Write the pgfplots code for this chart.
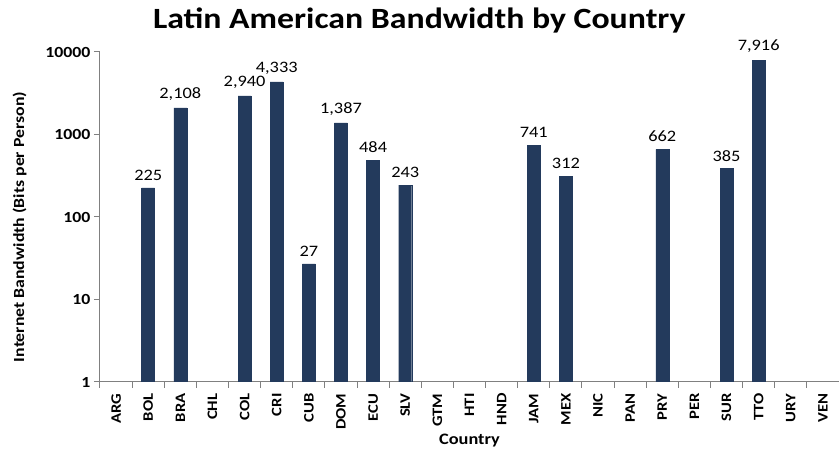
\documentclass[border=0pt]{standalone}
\usepackage{pgfplots}
\pgfplotsset{compat=1.18}
\usepackage{fontspec}
\setmainfont[FakeStretch=1.15]{Carlito}
\definecolor{barblue}{RGB}{35,58,92}
\definecolor{axgray}{RGB}{128,128,128}
\begin{document}
\begin{tikzpicture}
\begin{axis}[
  name=ax,
  scale only axis,
  width=739bp, height=330bp,
  ymode=log,
  ymin=1, ymax=10000,
  xmin=-0.5, xmax=22.5,
  ybar, bar width=13bp,
  axis x line=bottom, axis y line=left,
  axis line style={-, axgray, line width=1pt},
  ytick={1,10,100,1000,10000},
  yticklabels={1,10,100,1000,10000},
  yminorticks=false,
  xtick style={draw=axgray, line width=1pt},
  ytick style={draw=axgray, line width=1pt},
  tick align=outside,
  major tick length=6bp,
  x tick label as interval,
  xtick={-0.5,0.5,...,22.5},
  xticklabels={ARG,BOL,BRA,CHL,COL,CRI,CUB,DOM,ECU,SLV,GTM,HTI,HND,JAM,MEX,NIC,PAN,PRY,PER,SUR,TTO,URY,VEN},
  x tick label style={rotate=90, anchor=east, font=\fontsize{14.5}{16}\selectfont\bfseries, xshift=-2bp},
  y tick label style={font=\fontsize{15.5}{17}\selectfont\bfseries},
  xlabel={Country},
  xlabel style={font=\fontsize{16}{18}\selectfont\bfseries, yshift=3bp},
  ylabel={Internet Bandwidth (Bits per Person)},
  ylabel style={font=\fontsize{15.5}{17}\selectfont\bfseries, yshift=12bp, xshift=-10bp},
  title={Latin American Bandwidth by Country},
  title style={font=\fontsize{29.5}{32}\selectfont\bfseries, at={(0.432,1)}, anchor=south, yshift=9bp},
  nodes near coords={\pgfplotspointmeta},
  point meta=explicit symbolic,
  every node near coord/.append style={font=\fontsize{16}{18}\selectfont, black, yshift=4bp},
]
\addplot[fill=barblue, draw=barblue] coordinates {
  (1,225) [225]
  (2,2108) [2{,}108]
  (4,2940) [2{,}940]
  (5,4333) [4{,}333]
  (6,27) [27]
  (7,1387) [1{,}387]
  (8,484) [484]
  (9,243) [243]
  (13,741) [741]
  (14,312) [312]
  (17,662) [662]
  (19,385) [385]
  (20,7916) [7{,}916]
};
\coordinate (O) at (rel axis cs:0,0);
\coordinate (T) at (rel axis cs:1,1);
\end{axis}
\pgfresetboundingbox
\path[use as bounding box] ([xshift=-100bp,yshift=-68bp]O) rectangle ([yshift=52bp]T);
\end{tikzpicture}
\end{document}
